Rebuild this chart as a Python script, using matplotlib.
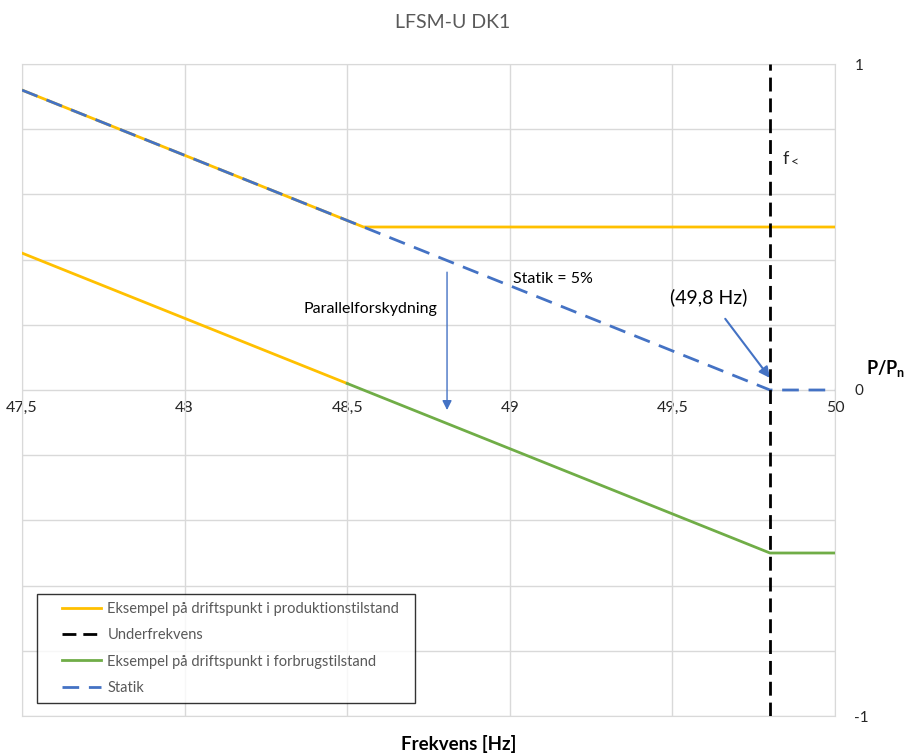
import numpy as np
import matplotlib
matplotlib.use("Agg")
import matplotlib.pyplot as plt
from matplotlib.lines import Line2D
from matplotlib.legend_handler import HandlerLine2D
from matplotlib.ticker import FuncFormatter, MultipleLocator

plt.rcParams['font.family'] = ['Lato', 'DejaVu Sans']
plt.rcParams['mathtext.fontset'] = 'custom'
plt.rcParams['mathtext.rm'] = 'Lato'
plt.rcParams['mathtext.bf'] = 'Lato:bold'

# data
freq_prod = [47.5, 48.55, 50.0]
p_prod = [0.92, 0.5, 0.5]
freq_prod_low = [47.5, 48.5]
p_prod_low = [0.42, 0.02]
freq_cons = [48.5, 49.8, 50.0]
p_cons = [0.02, -0.5, -0.5]
freq_statik = [47.5, 49.8, 50.0]
p_statik = [0.92, 0.0, 0.0]
f_under = 49.8
x_ticks = [47.5, 48.0, 48.5, 49.0, 49.5, 50.0]

YELLOW = "#FFC000"
GREEN = "#70AD47"
BLUE = "#4472C4"
GRID = "#D9D9D9"
TXT = "#262626"


def comma(v, pos=None):
    s = f"{v:g}"
    return s.replace(".", ",")


fig = plt.figure(figsize=(9.08, 7.54), dpi=100)
ax = fig.add_axes([22 / 908, 1 - 716 / 754, 813 / 908, 652 / 754])
ax.set_xlim(47.5, 50)
ax.set_ylim(-1, 1)

ax.plot(freq_prod, p_prod, color=YELLOW, lw=2, label="Eksempel på driftspunkt i produktionstilstand  ", zorder=3)
ax.plot(freq_prod_low, p_prod_low, color=YELLOW, lw=2, zorder=3)
ax.axvline(f_under, color="black", lw=2, dashes=(5, 2.5), label="Underfrekvens", zorder=4)
ax.plot(freq_cons, p_cons, color=GREEN, lw=2, label="Eksempel på driftspunkt i forbrugstilstand", zorder=3)
ax.plot(freq_statik, p_statik, color=BLUE, lw=2, dashes=(6, 3.5), label="Statik", zorder=3)

# grid and frame
ax.xaxis.set_major_locator(MultipleLocator(0.5))
ax.yaxis.set_major_locator(MultipleLocator(0.2))
ax.grid(True, color=GRID, lw=1)
ax.set_axisbelow(True)
for sp in ax.spines.values():
    sp.set_color(GRID)
ax.tick_params(axis="x", length=0, labelbottom=False)
ax.yaxis.tick_right()
ax.tick_params(axis="y", length=0, pad=14, labelsize=11, labelcolor=TXT)
ax.yaxis.set_major_formatter(FuncFormatter(
    lambda v, p: comma(round(v)) if abs(v - round(v)) < 1e-6 else ""))

# x tick labels sit on the zero line
sec = ax.secondary_xaxis(0.5)
sec.set_xticks(x_ticks)
sec.xaxis.set_major_formatter(FuncFormatter(comma))
sec.xaxis.set_ticks_position("bottom")
sec.tick_params(length=0, pad=8, labelsize=11.5, labelcolor=TXT)
for sp in sec.spines.values():
    sp.set_visible(False)

# annotations
ax.text(49.840, 0.71, "f", fontsize=13, color=TXT, va="center", ha="left")
ax.text(49.864, 0.70, "<", fontsize=10, color=TXT, va="center", ha="left")
ax.text(49.133, 0.34, "Statik = 5%", fontsize=11.5, color="black", va="center", ha="center")
ax.text(48.57, 0.25, "Parallelforskydning", fontsize=11.5, color="black", va="center", ha="center")
ax.annotate("", xy=(48.807, -0.07), xytext=(48.807, 0.37),
            arrowprops=dict(arrowstyle="-|>", color=BLUE, lw=1, mutation_scale=14))
ax.annotate("(49,8 Hz)", xy=(49.80, 0.037), xytext=(49.612, 0.285),
            fontsize=14, color="black", ha="center", va="center",
            arrowprops=dict(arrowstyle="-|>", color=BLUE, lw=1.5, mutation_scale=16,
                            shrinkA=9, shrinkB=0))

ax.text(1.038, 0.067, r"$\mathbf{P/P_n}$", transform=ax.get_yaxis_transform(),
        fontsize=13, ha="left", va="center", color="black")

fig.text(453 / 908, 1 - 22 / 754, "LFSM-U DK1", fontsize=14, color="#595959",
         ha="center", va="center")
fig.text(459 / 908, 1 - 744 / 754, "Frekvens [Hz]", fontsize=13.5, fontweight="bold",
         ha="center", va="center")

leg = ax.legend(loc="lower left", bbox_to_anchor=(0.018, 0.02), fontsize=10.5,
                frameon=True, fancybox=False, edgecolor="black", handlelength=3.85,
                handletextpad=0.45, labelspacing=0.85, borderpad=0.55, borderaxespad=0,
                handler_map={Line2D: HandlerLine2D(xpad=1.17)})
leg.get_frame().set_linewidth(1)
for t in leg.get_texts():
    t.set_color("#595959")

fig.savefig("out.png", dpi=100)
